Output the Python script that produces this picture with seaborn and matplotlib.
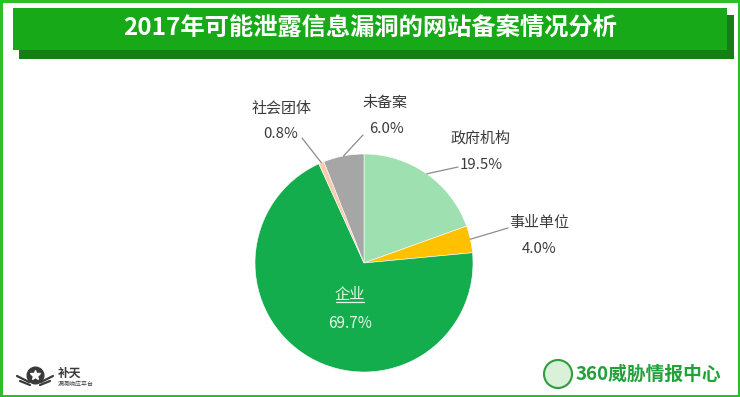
import numpy as np
import matplotlib
matplotlib.use("Agg")
import matplotlib.pyplot as plt
import seaborn as sns
from matplotlib.patches import Rectangle, Circle

sns.set_theme(style="white")
plt.rcParams['font.family'] = ['Noto Sans CJK SC', 'DejaVu Sans']

title = "2017年可能泄露信息漏洞的网站备案情况分析"
categories = ["政府机构", "事业单位", "企业", "社会团体", "未备案"]
values = [19.5, 4.0, 69.7, 0.8, 6.0]
colors = ["#9EE0AF", "#FFC000", "#14AD4D", "#F8CBAD", "#A6A6A6"]

W, H = 740, 397
fig = plt.figure(figsize=(W / 100, H / 100), dpi=100)
ax = fig.add_axes([0, 0, 1, 1])

def Y(y):
    return H - y

# frame and banner
ax.add_patch(Rectangle((1, 1), W - 2, H - 2, fill=False, edgecolor="#2DBE2D", lw=2.2, zorder=1))
ax.add_patch(Rectangle((19, Y(59)), 715, 44, facecolor="#157F15", edgecolor="none", zorder=1))
ax.add_patch(Rectangle((13, Y(50)), 714, 42, facecolor="#17A917", edgecolor="none", zorder=2))
ax.text(370, Y(29), title, color="white", fontsize=17.5, fontweight="bold",
        ha="center", va="center", zorder=3)

# pie
cx, cy, r = 364, Y(263), 109
wedges, _ = ax.pie(values, colors=colors, startangle=90, counterclock=False,
                   center=(cx, cy), radius=r, frame=True,
                   wedgeprops=dict(edgecolor="white", linewidth=0.4))
ax.set_xlim(0, W)
ax.set_ylim(0, H)
ax.set_aspect("auto")
ax.axis("off")

lab_color = "#3A3A3A"
label_pos = {
    "政府机构": ((481, 139), (481, 165), (458, 167)),
    "事业单位": ((539, 223), (539, 249), (508, 228)),
    "社会团体": ((282, 109), (281, 134), (302, 138)),
    "未备案": ((385, 103), (386, 129), (363, 135)),
}
for w, cat, v in zip(wedges, categories, values):
    if cat == "企业":
        ax.text(350, Y(294), cat, color="#E6F7EA", fontsize=11, ha="center", va="center", zorder=5)
        ax.plot([336, 364], [Y(302), Y(302)], color="#E6F7EA", lw=0.9, zorder=5)
        ax.text(350, Y(323), f"{v:.1f}%", color="#E6F7EA", fontsize=11, ha="center", va="center", zorder=5)
        continue
    (nx, ny), (px, py), (lx, ly) = label_pos[cat]
    mid = np.deg2rad((w.theta1 + w.theta2) / 2)
    sx, sy = cx + r * np.cos(mid), cy + r * np.sin(mid)
    ax.plot([sx, lx], [sy, Y(ly)], color="#8C8C8C", lw=0.9, zorder=4)
    ax.text(nx, Y(ny), cat, color=lab_color, fontsize=10.8, ha="center", va="center", zorder=5)
    ax.text(px, Y(py), f"{v:.1f}%", color=lab_color, fontsize=10.8, ha="center", va="center", zorder=5)

# bottom-left logo
logo = "#3A3A3A"
ax.plot([35], [Y(375)], marker="o", ms=12, color=logo, zorder=5)
ax.plot([35], [Y(375)], marker="*", ms=7, color="white", zorder=6)
ax.plot([17, 29], [Y(376), Y(382)], color=logo, lw=1.6)
ax.plot([20, 30], [Y(381), Y(385)], color=logo, lw=1.6)
ax.plot([53, 41], [Y(376), Y(382)], color=logo, lw=1.6)
ax.plot([50, 40], [Y(381), Y(385)], color=logo, lw=1.6)
ax.text(58, Y(373), "补天", color=logo, fontsize=8.5, fontweight="bold", ha="left", va="center")
ax.text(58, Y(384), "漏洞响应平台", color=logo, fontsize=4.3, ha="left", va="center")

# bottom-right logo
ax.add_patch(Circle((558, Y(374)), 14, facecolor="#D9F0D9", edgecolor="#2E9E3A", lw=1.5, zorder=5))
ax.text(576, Y(374), "360威胁情报中心", color="#22A03A", fontsize=13.5, fontweight="bold",
        ha="left", va="center", zorder=5)

fig.savefig("out.png", dpi=100)
